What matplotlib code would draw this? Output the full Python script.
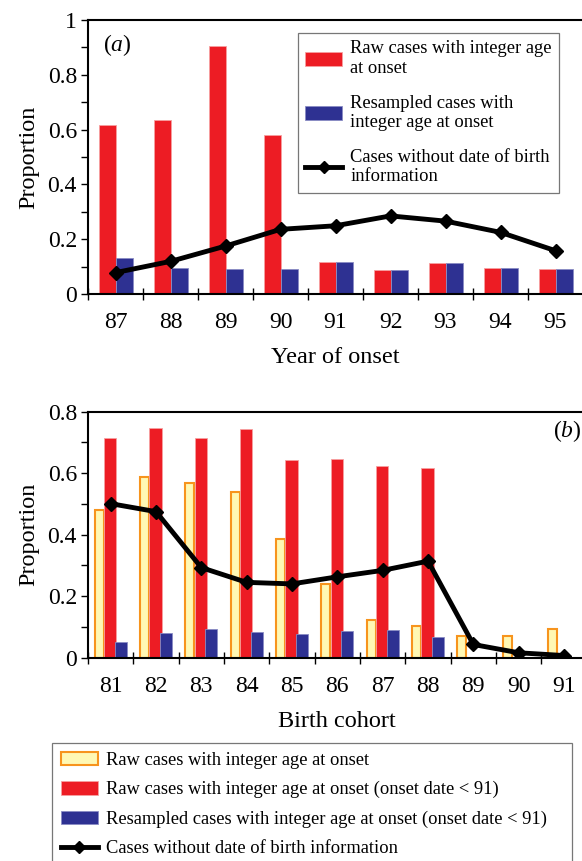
import numpy as np
import matplotlib
matplotlib.use("Agg")
import matplotlib.pyplot as plt
from matplotlib.ticker import MultipleLocator, FixedLocator, FuncFormatter
from matplotlib.lines import Line2D
from matplotlib.patches import Patch

plt.rcParams["font.family"] = ["Liberation Serif", "DejaVu Serif"]
plt.rcParams["mathtext.fontset"] = "custom"
plt.rcParams["mathtext.rm"] = "Liberation Serif"
plt.rcParams["mathtext.it"] = "Liberation Serif:italic"

# panel (a): by year of onset
years = [87, 88, 89, 90, 91, 92, 93, 94, 95]
raw_a = [0.617, 0.635, 0.906, 0.581, 0.116, 0.088, 0.113, 0.095, 0.090]
resamp_a = [0.132, 0.096, 0.092, 0.090, 0.116, 0.088, 0.113, 0.095, 0.090]
nodob_a = [0.078, 0.119, 0.175, 0.236, 0.249, 0.285, 0.266, 0.225, 0.158]

# panel (b): by birth cohort
cohorts = [81, 82, 83, 84, 85, 86, 87, 88, 89, 90, 91]
raw_all_b = [0.481, 0.589, 0.569, 0.538, 0.386, 0.239, 0.123, 0.104, 0.072, 0.071, 0.092]
raw_b = [0.714, 0.748, 0.713, 0.744, 0.642, 0.646, 0.622, 0.617]
resamp_b = [0.051, 0.081, 0.092, 0.083, 0.077, 0.086, 0.090, 0.066]
nodob_b = [0.501, 0.475, 0.293, 0.245, 0.240, 0.263, 0.284, 0.314, 0.043, 0.016, 0.007]

RED = "#ED1C24"
BLUE = "#2E3192"
YELLOW = "#FFF8B4"
ORANGE = "#F7941D"

TICK_FS = 17
LEG_FS = 13.3

W, H = 582, 861
fig = plt.figure(figsize=(W / 100, H / 100), dpi=100)


def px_axes(left, top, right, bottom):
    return fig.add_axes([left / W, 1 - bottom / H, (right - left) / W, (bottom - top) / H])


def style_axes(ax, cats, ymax):
    ax.set_xlim(cats[0] - 0.5, cats[-1] + 0.5)
    ax.set_ylim(0, ymax)
    ax.set_xticks(cats)
    ax.set_xticklabels([str(c) for c in cats])
    ax.xaxis.set_minor_locator(FixedLocator(np.arange(cats[0] - 0.5, cats[-1] + 0.6, 1.0)))
    ax.tick_params(axis="x", which="major", length=0, pad=13, labelsize=TICK_FS)
    ax.tick_params(axis="x", which="minor", direction="inout", length=8, width=1)
    ax.yaxis.set_major_locator(MultipleLocator(0.2))
    ax.yaxis.set_minor_locator(MultipleLocator(0.1))
    ax.yaxis.set_major_formatter(FuncFormatter(lambda v, p: "{:g}".format(round(v, 2))))
    ax.tick_params(axis="y", which="both", direction="out", length=5, width=1, labelsize=TICK_FS, pad=3)
    for s in ("left", "bottom", "top"):
        ax.spines[s].set_linewidth(1.5)
    ax.spines["right"].set_visible(False)
    ax.set_ylabel("Proportion", fontsize=TICK_FS + 0.5, labelpad=6)


# ---- (a) year of onset ----
ax1 = px_axes(88, 20, 583, 294)
x = np.array(years, dtype=float)
ax1.bar(x - 0.145, raw_a, width=0.31, color=RED, edgecolor="#F7A0A0", linewidth=0.6)
ax1.bar(x + 0.16, resamp_a, width=0.31, color=BLUE, edgecolor="#8A8CC4", linewidth=0.6)
ax1.plot(x, nodob_a, color="black", lw=3.5, marker="D", ms=7, solid_joinstyle="round")
style_axes(ax1, years, 1.0)
ax1.set_xlabel("Year of onset", fontsize=TICK_FS + 0.5, labelpad=10)
ax1.text(0.03, 0.955, "($a$)", transform=ax1.transAxes, fontsize=TICK_FS, va="top", ha="left")

handles_a = [
    Patch(facecolor=RED, edgecolor="#F7A0A0", linewidth=0.6),
    Patch(facecolor=BLUE, edgecolor="#8A8CC4", linewidth=0.6),
    Line2D([], [], color="black", lw=3.5, marker="D", ms=6),
]
labels_a = [
    "Raw cases with integer age\nat onset",
    "Resampled cases with\ninteger age at onset",
    "Cases without date of birth\ninformation",
]
leg1 = fig.legend(handles_a, labels_a, loc="upper left",
                  bbox_to_anchor=(297.7 / W, 1 - 33 / H), borderaxespad=0,
                  fontsize=LEG_FS, frameon=True, fancybox=False, edgecolor="#555555",
                  handlelength=2.0, handleheight=0.8, handletextpad=0.45,
                  labelspacing=0.95, borderpad=0.4)
leg1.get_frame().set_linewidth(0.9)

# ---- (b) birth cohort ----
ax2 = px_axes(88, 411.7, 586.7, 657.7)
xb = np.array(cohorts, dtype=float)
xr = xb[:len(raw_b)]
ax2.bar(xb - 0.255, raw_all_b, width=0.2, color=YELLOW, edgecolor=ORANGE, linewidth=1.5)
ax2.bar(xr - 0.01, raw_b, width=0.27, color=RED, edgecolor="#F7A0A0", linewidth=0.6)
ax2.bar(xr + 0.22, resamp_b, width=0.26, color=BLUE, edgecolor="#8A8CC4", linewidth=0.6)
ax2.plot(xb, nodob_b, color="black", lw=3.5, marker="D", ms=7, solid_joinstyle="round")
style_axes(ax2, cohorts, 0.8)
ax2.set_xlabel("Birth cohort", fontsize=TICK_FS + 0.5, labelpad=10)
ax2.text((567 - 88) / 498.7, 0.92, "($b$)", transform=ax2.transAxes, fontsize=TICK_FS,
         va="center", ha="center")

handles_b = [
    Patch(facecolor=YELLOW, edgecolor=ORANGE, linewidth=1.5),
    Patch(facecolor=RED, edgecolor="#F7A0A0", linewidth=0.6),
    Patch(facecolor=BLUE, edgecolor="#8A8CC4", linewidth=0.6),
    Line2D([], [], color="black", lw=3.5, marker="D", ms=6),
]
labels_b = [
    "Raw cases with integer age at onset",
    "Raw cases with integer age at onset (onset date < 91)",
    "Resampled cases with integer age at onset (onset date < 91)",
    "Cases without date of birth information",
]
leg2 = fig.legend(handles_b, labels_b, loc="upper left",
                  bbox_to_anchor=(52.3 / W, 0.0, (572.3 - 52.3) / W, 1 - 743.3 / H),
                  mode="expand", borderaxespad=0,
                  fontsize=LEG_FS, frameon=True, fancybox=False, edgecolor="#555555",
                  handlelength=2.0, handleheight=0.75, handletextpad=0.45,
                  labelspacing=0.66, borderpad=0.45)
leg2.get_frame().set_linewidth(0.9)

fig.savefig("out.png", dpi=100)
